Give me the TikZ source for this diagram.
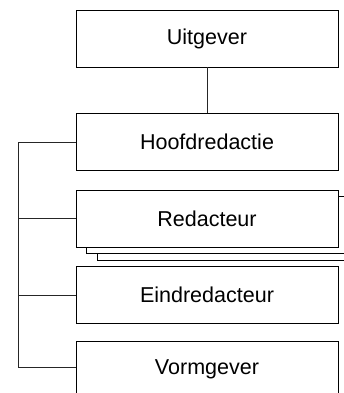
\documentclass[tikz,border=0pt]{standalone}
\usepackage{fontspec}
\setmainfont{Liberation Sans}
\begin{document}
\begin{tikzpicture}[x=1bp,y=-1bp,
  box/.style={draw=black,line width=0.9bp,fill=white,minimum width=262bp,minimum height=57bp,inner sep=0pt,
    font=\fontsize{21.6}{25}\selectfont},
  conn/.style={draw=black!85,line width=0.9bp}]
\useasboundingbox (0,0) rectangle (344,393);
\clip (0,0) rectangle (344,393);
\node[box] (U) at (207,38.5) {Uitgever};
\node[box] (H) at (207,142) {Hoofdredactie};
\node[box] (R3) at (228,232) {};
\node[box] (R2) at (217,224.5) {};
\node[box] (R) at (207,218.5) {Redacteur};
\node[box] (E) at (207,295) {Eindredacteur};
\node[box] (V) at (207,369.5) {Vormgever};
\coordinate (T) at (18,142);
\coordinate (B) at (18,367);
\draw[conn] (U.south) -- (H.north);
\draw[conn] (H.west) -- (T) -- (B) -- (B -| V.west);
\draw[conn] (R.west) -- (R.west -| T);
\draw[conn] (E.west) -- (E.west -| T);
\end{tikzpicture}
\end{document}
